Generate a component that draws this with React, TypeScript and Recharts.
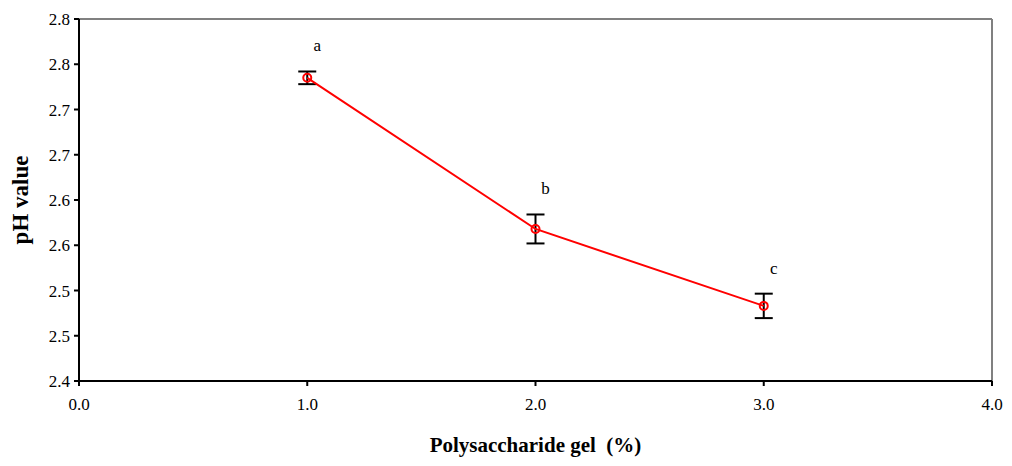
import React from 'react';
import {
  ComposedChart,
  Line,
  XAxis,
  YAxis,
  ErrorBar,
  LabelList,
  ReferenceLine,
} from 'recharts';

// Data
const gelPercent = [1, 2, 3];
const phMean = [2.735, 2.568, 2.483];
const phSd = [0.007, 0.016, 0.0135];
const letters = ['a', 'b', 'c'];

const xTicks = [0, 1, 2, 3, 4];
const yTicks = [2.4, 2.45, 2.5, 2.55, 2.6, 2.65, 2.7, 2.75, 2.8];
const yTickLabels = ['2.4', '2.5', '2.5', '2.6', '2.6', '2.7', '2.7', '2.8', '2.8'];

const data = gelPercent.map((g, i) => ({
  gel: g,
  ph: phMean[i],
  sd: phSd[i],
  top: phMean[i] + phSd[i],
  letter: letters[i],
}));

const font = '"Liberation Serif", "Times New Roman", serif';

const LetterLabel = (props: any) => {
  const { x, y, value } = props;
  return (
    <text x={x + 10} y={y - 20} textAnchor="middle" fontFamily={font} fontSize={17} fill="#000">
      {value}
    </text>
  );
};

const XTick = (props: any) => {
  const { x, y, payload } = props;
  return (
    <text x={x} y={y + 22} textAnchor="middle" fontFamily={font} fontSize={17} fill="#000">
      {Number(payload.value).toFixed(1)}
    </text>
  );
};

const YTick = (props: any) => {
  const { x, y, index } = props;
  return (
    <text x={x - 2} y={y + 6} textAnchor="end" fontFamily={font} fontSize={17} fill="#000">
      {yTickLabels[index]}
    </text>
  );
};

export default function App() {
  return (
    <div style={{ position: 'absolute', left: 0, top: 0, background: '#fff' }}>
      <ComposedChart
        width={1012}
        height={466}
        data={data}
        margin={{ top: 19, right: 20, left: 0, bottom: 0 }}
      >
        <ReferenceLine y={2.8} stroke="#808080" strokeWidth={2} ifOverflow="visible" />
        <ReferenceLine x={4} stroke="#808080" strokeWidth={2} ifOverflow="visible" />
        <XAxis
          dataKey="gel"
          type="number"
          domain={[0, 4]}
          ticks={xTicks}
          height={85}
          stroke="#000"
          strokeWidth={2}
          tickSize={5}
          tick={<XTick />}
          label={{
            value: 'Polysaccharide gel\u00a0\u00a0(%)',
            position: 'insideBottom',
            offset: 14,
            style: { fontFamily: font, fontSize: 21, fontWeight: 'bold', fill: '#000' },
          }}
        />
        <YAxis
          type="number"
          domain={[2.4, 2.8]}
          ticks={yTicks}
          interval={0}
          width={79}
          stroke="#000"
          strokeWidth={2}
          tickSize={5}
          tick={<YTick />}
          label={{
            value: 'pH value',
            angle: -90,
            position: 'insideLeft',
            offset: 20,
            style: { fontFamily: font, fontSize: 23, fontWeight: 'bold', fill: '#000', textAnchor: 'middle' },
          }}
        />
        <Line
          dataKey="ph"
          stroke="#ff0000"
          strokeWidth={2}
          dot={{ r: 4, stroke: '#ff0000', strokeWidth: 2, fill: 'none' }}
          activeDot={false}
          isAnimationActive={false}
        >
          <ErrorBar dataKey="sd" width={9} stroke="#000" strokeWidth={2} direction="y" />
        </Line>
        <Line
          dataKey="top"
          stroke="none"
          dot={false}
          activeDot={false}
          isAnimationActive={false}
        >
          <LabelList dataKey="letter" content={LetterLabel} />
        </Line>
      </ComposedChart>
    </div>
  );
}
